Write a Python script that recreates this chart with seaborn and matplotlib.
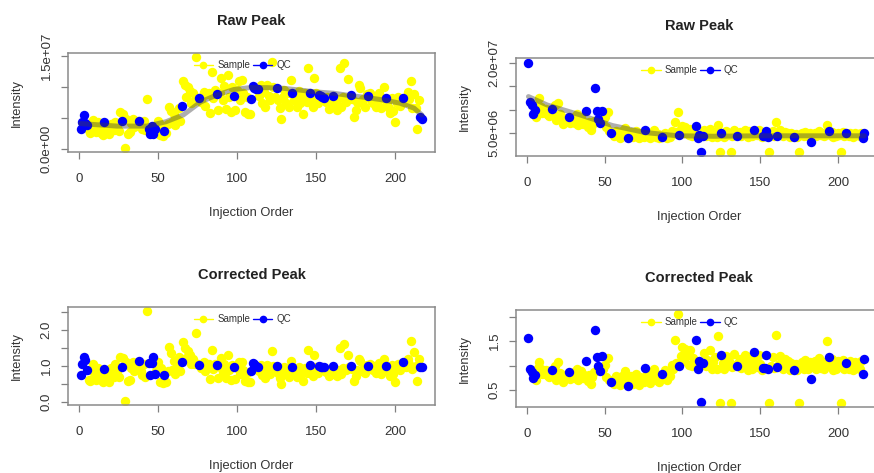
import pandas as pd
import matplotlib.pyplot as plt
import seaborn as sns
from matplotlib.lines import Line2D

sns.set_style("white")
plt.rcParams['font.family'] = ['Liberation Sans', 'DejaVu Sans']

# injection order of the QC injections; all other orders are samples
qc_order = [1, 2, 3, 4, 5, 16, 27, 38, 44, 45, 46, 47, 48, 54, 65, 76, 87, 98,
            109, 110, 111, 112, 113, 125, 135, 146, 152, 153, 154, 155, 161,
            172, 183, 194, 205, 216, 217]
sample_order = [i for i in range(1, 218) if i not in qc_order]

# ---- left feature (raw values in 1e6) ----
left_raw_qc = [3.2, 4.4, 5.5, 4.2, 3.9, 4.4, 4.6, 4.5, 3.3, 2.5, 3.7, 2.4, 3.2,
               2.9, 6.9, 8.3, 8.8, 8.5, 8.1, 10.2, 9.9, 9.6, 9.6, 9.8, 9.0,
               9.1, 8.7, 8.5, 8.4, 8.3, 8.5, 8.7, 8.5, 8.2, 8.2, 5.1, 4.9]
left_raw_sample = [
    3.0, 2.6, 3.5, 4.7, 3.1, 2.8, 4.3, 3.4, 2.6, 2.3,
    3.0, 3.8, 2.5, 4.0, 3.3, 3.0, 4.3, 3.6, 2.9, 6.0,
    5.6, 0.2, 4.8, 2.5, 2.8, 4.2, 4.8, 3.6, 4.0, 4.6,
    3.8, 3.2, 4.5, 3.0, 8.0,
    3.5, 4.5, 2.2, 3.8, 2.1,
    2.6, 4.0, 6.8, 6.2, 4.3, 5.6, 3.9, 4.9, 6.6, 4.5,
    10.9, 10.3, 8.4, 10.0, 9.3, 7.4, 9.0, 7.8, 14.8, 8.2,
    7.6, 8.4, 9.2, 7.0, 8.8, 9.0, 5.8, 12.4, 8.2, 9.5,
    6.3, 9.0, 11.4, 7.9, 10.1, 6.5, 11.9, 8.4, 6.0, 10.0,
    6.3, 9.5, 11.0, 7.9, 11.1, 9.0, 6.0, 8.4, 5.6, 5.7,
    8.6, 10.3, 7.5, 9.2, 6.8, 10.3, 8.5, 7.9, 14.0, 10.0, 8.4,
    7.9, 6.6, 4.9, 8.4, 9.5, 7.5, 9.0, 6.8, 11.1,
    7.9, 8.4, 6.8, 9.3, 7.4, 8.5, 5.6, 9.0, 7.6, 13.0,
    7.9, 6.8, 11.5, 9.0, 7.4,
    7.6, 8.4, 6.5, 7.9, 7.0,
    7.0, 6.3, 8.0, 13.1, 6.8, 8.4, 13.9, 7.6, 11.3, 8.4,
    8.0, 5.2, 6.3, 7.6, 10.3, 9.9, 7.4, 8.0, 6.8, 8.8,
    9.0, 7.9, 7.4, 8.4, 6.8, 7.8, 9.0, 6.6, 8.2, 10.0,
    7.5, 6.6, 5.8, 8.2, 6.2, 4.4, 7.4, 8.4, 6.9, 8.0,
    8.2, 7.6, 9.2, 8.0, 10.9, 6.6, 8.9, 6.6, 3.2, 7.9]
left_fit_x = [1, 24, 43, 55, 66, 77, 87, 98, 108, 119, 129, 140, 150, 161,
              172, 182, 193, 203, 212, 217]
left_fit_y = [4.1, 3.7, 3.7, 4.4, 5.5, 7.6, 8.7, 9.6, 9.9, 9.9, 9.8, 9.5, 9.2,
              9.0, 8.6, 8.3, 7.9, 7.4, 6.6, 5.5]

left_cor_qc = [0.75, 1.06, 1.24, 1.17, 0.89, 0.91, 0.98, 1.15, 1.08, 0.74,
               1.08, 1.26, 0.78, 0.75, 1.10, 1.04, 1.02, 0.97, 0.85, 1.08,
               1.06, 1.01, 0.97, 1.01, 0.98, 1.03, 1.00, 0.98, 0.97, 0.97,
               1.00, 1.00, 0.99, 0.99, 1.12, 0.97, 0.98]
left_cor_sample = [
    0.62, 0.58, 0.85, 1.06, 0.70, 0.62, 0.95, 0.75, 0.62, 0.55,
    0.70, 0.90, 0.55, 0.95, 0.80, 0.70, 1.05, 0.85, 0.70, 1.25,
    1.22, 0.03, 1.10, 0.58, 0.62, 0.95, 1.10, 0.85, 0.95, 1.10,
    0.85, 0.75, 1.05, 0.70, 2.53,
    0.85, 1.10, 0.55, 0.95, 0.52,
    0.55, 0.85, 1.52, 1.35, 0.90, 1.15, 0.78, 0.95, 1.25, 0.85,
    1.65, 1.50, 1.22, 1.42, 1.30, 1.05, 1.20, 1.05, 1.92, 1.05,
    0.95, 1.02, 1.10, 0.85, 1.05, 1.05, 0.65, 1.45, 0.92, 1.05,
    0.68, 0.98, 1.22, 0.83, 1.05, 0.68, 1.30, 0.88, 0.62, 1.02,
    0.65, 0.95, 1.10, 0.78, 1.10, 0.88, 0.60, 0.82, 0.55, 0.55,
    0.85, 1.02, 0.75, 0.92, 0.68, 1.02, 0.85, 0.78, 1.42, 1.00, 0.85,
    0.80, 0.68, 0.50, 0.85, 0.97, 0.78, 0.92, 0.70, 1.15,
    0.82, 0.88, 0.70, 0.97, 0.78, 0.88, 0.58, 0.94, 0.80, 1.45,
    0.85, 0.72, 1.30, 0.98, 0.80,
    0.84, 0.93, 0.72, 0.88, 0.78,
    0.78, 0.72, 0.90, 1.50, 0.78, 0.95, 1.60, 0.88, 1.30, 0.97,
    0.93, 0.60, 0.73, 0.88, 1.20, 1.15, 0.86, 0.93, 0.80, 1.02,
    1.05, 0.93, 0.88, 1.00, 0.80, 0.93, 1.08, 0.79, 0.98, 1.20,
    0.92, 0.81, 0.72, 1.02, 0.78, 0.55, 0.93, 1.05, 0.88, 1.02,
    1.05, 0.98, 1.20, 1.05, 1.68, 0.92, 1.40, 1.00, 0.58, 1.20]

# ---- right feature (raw values in 1e6) ----
right_raw_qc = [20.1, 11.7, 11.1, 9.0, 9.9, 10.1, 8.5, 9.7, 14.6, 9.7, 8.1,
                7.1, 9.7, 4.9, 4.0, 5.6, 4.2, 4.6, 6.5, 3.9, 4.6, 1.0, 4.4,
                5.1, 4.4, 5.7, 4.4, 4.3, 5.5, 4.1, 4.4, 4.1, 3.1, 5.4, 4.9,
                3.9, 5.1]
right_raw_sample = [
    8.5, 11.0, 12.6, 10.5, 9.3, 9.6, 10.2, 9.0, 8.6, 9.8,
    8.9, 11.0, 7.7, 11.4, 9.0, 7.9, 6.9, 8.3, 7.6, 8.0,
    7.2, 7.8, 8.5, 7.2, 9.0, 6.7, 7.8, 8.4, 7.0, 7.4,
    6.2, 7.3, 5.6, 6.8, 7.6,
    7.8, 8.5, 6.3, 9.6, 5.5,
    5.0, 4.3, 5.5, 4.6, 5.2, 4.0, 5.4, 4.7, 6.0, 4.8,
    4.6, 5.2, 4.1, 4.8, 5.4, 4.4, 3.9, 5.0, 4.5, 4.2,
    5.3, 4.6, 4.0, 4.9, 4.4, 5.6, 4.2, 4.8, 3.9, 4.6,
    4.4, 5.0, 3.9, 4.6, 4.2, 5.4, 4.8, 7.4, 5.2, 9.6,
    5.8, 6.6, 5.0, 6.2, 5.5, 4.6, 5.9, 4.4, 5.1, 4.7,
    5.6, 4.4, 5.0, 4.6, 5.9, 4.2, 4.8, 5.3, 4.1, 6.7, 1.0,
    4.8, 4.2, 5.4, 4.6, 5.0, 1.0, 4.4, 5.6, 4.6,
    4.8, 5.2, 4.4, 5.0, 5.6, 4.6, 4.2, 5.4, 4.8, 4.3,
    5.0, 4.5, 5.6, 4.8, 4.2,
    1.0, 4.6, 5.4, 4.4, 7.4,
    4.8, 5.6, 5.0, 4.4, 5.3, 4.6, 5.1, 4.2, 4.9, 4.5,
    4.8, 4.2, 1.0, 4.6, 5.0, 4.3, 5.2, 4.7, 4.4, 5.0,
    4.6, 5.1, 4.3, 4.8, 5.4, 4.5, 4.9, 4.4, 5.0, 6.7,
    4.6, 5.3, 4.2, 4.8, 4.4, 5.1, 4.6, 1.0, 5.2, 4.4,
    4.8, 4.3, 5.1, 4.6, 4.2, 5.0, 4.5, 4.8, 4.3, 5.1]
right_fit_x = [1, 13, 34, 55, 76, 97, 120, 150, 180, 217]
right_fit_y = [12.8, 11.0, 8.9, 6.6, 5.1, 4.4, 4.3, 4.4, 4.4, 4.4]

right_cor_qc = [1.57, 0.92, 0.86, 0.75, 0.80, 0.90, 0.86, 1.09, 1.73, 1.17,
                1.00, 0.88, 1.19, 0.66, 0.59, 0.95, 0.83, 1.00, 1.52, 0.93,
                1.10, 0.26, 1.05, 1.22, 1.00, 1.27, 0.95, 0.96, 1.22, 0.93,
                0.97, 0.91, 0.73, 1.18, 1.06, 0.83, 1.13]
right_cor_sample = [
    0.70, 0.95, 1.07, 0.92, 0.82, 0.85, 0.90, 0.80, 0.76, 0.88,
    0.80, 1.00, 0.70, 1.07, 0.84, 0.74, 0.66, 0.80, 0.74, 0.79,
    0.72, 0.78, 0.86, 0.74, 0.92, 0.70, 0.82, 0.89, 0.75, 0.80,
    0.68, 0.81, 0.63, 0.77, 0.87,
    0.93, 1.02, 0.76, 1.16, 0.70,
    0.70, 0.62, 0.78, 0.66, 0.75, 0.60, 0.78, 0.68, 0.88, 0.70,
    0.68, 0.78, 0.62, 0.72, 0.82, 0.67, 0.60, 0.77, 0.70, 0.66,
    0.84, 0.74, 0.65, 0.80, 0.72, 0.92, 0.70, 0.80, 0.66, 0.78,
    0.78, 0.90, 0.71, 0.84, 0.78, 1.02, 0.92, 1.53, 1.05, 2.05,
    1.20, 1.38, 1.10, 1.35, 1.22, 1.02, 1.32, 0.99, 1.15, 1.05,
    1.26, 0.99, 1.12, 1.03, 1.32, 0.94, 1.07, 1.18, 0.92, 1.60, 0.24,
    1.06, 0.93, 1.19, 1.01, 1.10, 0.24, 0.97, 1.23, 1.01,
    1.05, 1.14, 0.96, 1.09, 1.22, 1.00, 0.91, 1.18, 1.05, 0.94,
    1.09, 0.98, 1.22, 1.04, 0.91,
    0.24, 0.99, 1.17, 0.95, 1.62,
    1.03, 1.20, 1.07, 0.94, 1.14, 0.99, 1.10, 0.90, 1.05, 0.97,
    1.03, 0.90, 0.24, 0.99, 1.07, 0.92, 1.12, 1.01, 0.94, 1.07,
    0.98, 1.09, 0.92, 1.03, 1.16, 0.96, 1.05, 0.94, 1.07, 1.50,
    0.99, 1.14, 0.90, 1.03, 0.94, 1.09, 0.99, 0.24, 1.11, 0.94,
    1.03, 0.92, 1.09, 0.99, 0.90, 1.07, 0.96, 1.03, 0.92, 1.09]


def draw_panel(ax, title, sample_vals, qc_vals, unit, yticks, ylabels, ylim,
               xlim, fit_x=None, fit_y=None):
    sns.scatterplot(x=sample_order, y=[v * unit for v in sample_vals],
                    color="yellow", s=46, linewidth=0, ax=ax, legend=False)
    if fit_x is not None:
        sns.lineplot(x=fit_x, y=[v * unit for v in fit_y], color="#404040",
                     alpha=0.42, lw=3.6, ax=ax)
    sns.scatterplot(x=qc_order, y=[v * unit for v in qc_vals],
                    color="blue", s=46, linewidth=0, ax=ax, legend=False)

    ax.set_xlim(*xlim)
    ax.set_ylim(*ylim)
    ax.set_xticks([0, 50, 100, 150, 200])
    ax.set_yticks(yticks)
    ax.set_yticklabels(ylabels)
    for lab in ax.get_yticklabels():
        lab.set_rotation(90)
        lab.set_va("center")
    ax.tick_params(bottom=True, left=True, direction="out", length=5,
                   width=0.9, color="#808080", labelsize=9.5,
                   labelcolor="#333333")
    ax.tick_params(axis="x", pad=10)
    ax.tick_params(axis="y", pad=6)
    for sp in ax.spines.values():
        sp.set_color("#8a8a8a")
        sp.set_linewidth(1.1)

    ax.set_title(title, fontsize=10.5, fontweight="bold", pad=20,
                 color="#222222")
    ax.set_xlabel("Injection Order", fontsize=9.3, labelpad=16,
                  color="#333333")
    ax.set_ylabel("Intensity", fontsize=9.3, labelpad=13, color="#333333")

    handles = [
        Line2D([0], [0], color="yellow", marker="o", markersize=4.5, lw=1),
        Line2D([0], [0], color="blue", marker="o", markersize=4.5, lw=1),
    ]
    ax.legend(handles, ["Sample", "QC"], loc="upper center",
              bbox_to_anchor=(0.475, 1.0), ncol=2, frameon=False,
              fontsize=7, handlelength=2.0, handletextpad=0.4,
              columnspacing=0.3, borderaxespad=0.35, labelcolor="#333333")


fig = plt.figure(figsize=(8.74, 4.73), dpi=100)
ax_tl = fig.add_axes([0.0778, 0.6786, 0.4199, 0.2093])
ax_tr = fig.add_axes([0.5904, 0.6702, 0.4188, 0.2072])
ax_bl = fig.add_axes([0.0778, 0.1438, 0.4199, 0.2072])
ax_br = fig.add_axes([0.5904, 0.1395, 0.4188, 0.2051])

left_xlim = (-7, 225.3)
right_xlim = (-7, 228.4)

draw_panel(ax_tl, "Raw Peak", left_raw_sample, left_raw_qc, 1e6,
           [0, 5e6, 1e7, 1.5e7], ["0.0e+00", "", "", "1.5e+07"],
           (-0.48e6, 15.48e6), left_xlim, left_fit_x, left_fit_y)
draw_panel(ax_tr, "Raw Peak", right_raw_sample, right_raw_qc, 1e6,
           [5e6, 1e7, 1.5e7, 2e7], ["5.0e+06", "", "", "2.0e+07"],
           (0.07e6, 21.07e6), right_xlim, right_fit_x, right_fit_y)
draw_panel(ax_bl, "Corrected Peak", left_cor_sample, left_cor_qc, 1,
           [0, 0.5, 1.0, 1.5, 2.0, 2.5], ["0.0", "", "1.0", "", "2.0", ""],
           (-0.075, 2.63), left_xlim)
draw_panel(ax_br, "Corrected Peak", right_cor_sample, right_cor_qc, 1,
           [0.5, 1.0, 1.5, 2.0], ["0.5", "", "1.5", ""],
           (0.15, 2.14), right_xlim)

fig.savefig("out.png", dpi=100, facecolor="white")
